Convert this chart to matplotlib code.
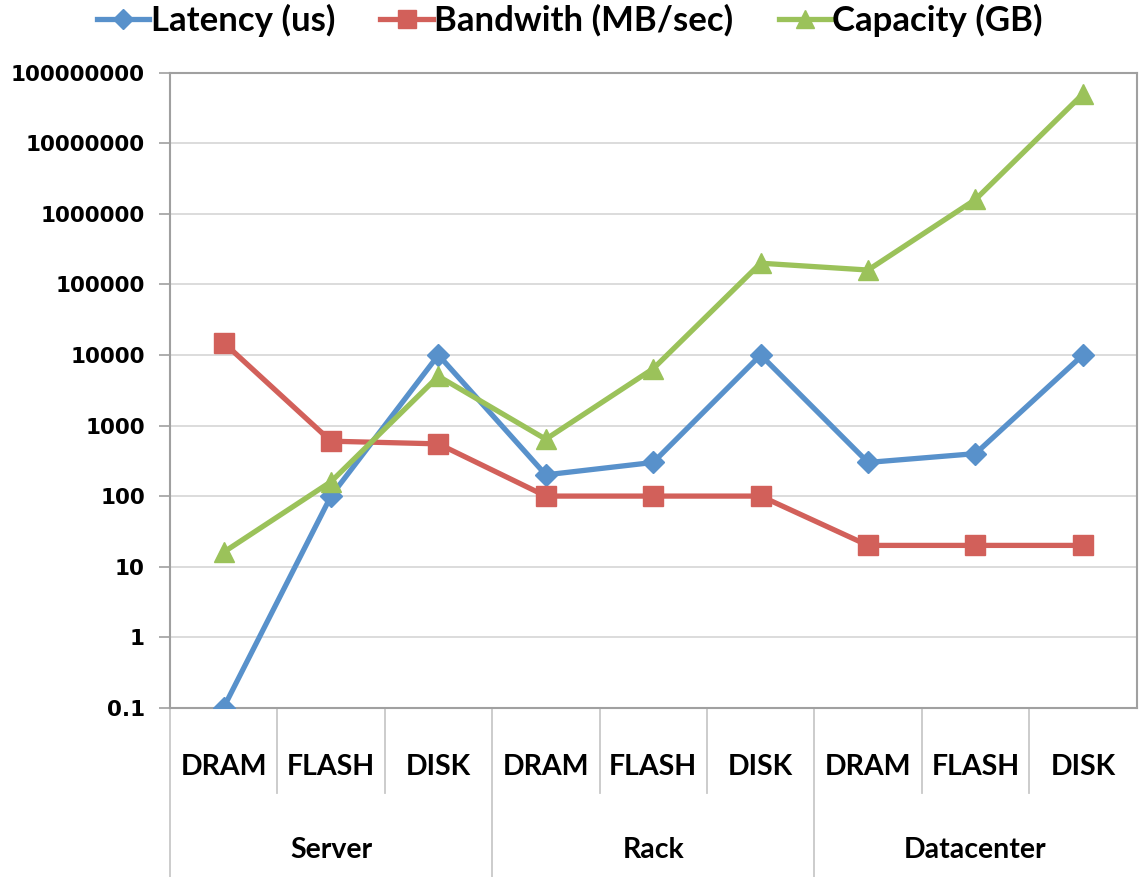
import numpy as np
import matplotlib.pyplot as plt

# Data
levels = ['DRAM', 'FLASH', 'DISK'] * 3
groups = ['Server', 'Rack', 'Datacenter']
latency = [0.1, 100, 10000, 200, 300, 10000, 300, 400, 10000]
bandwidth = [15000, 600, 550, 100, 100, 100, 20, 20, 20]
capacity = [16, 160, 5000, 640, 6400, 200000, 160000, 1600000, 50000000]
ytick_vals = [0.1, 1, 10, 100, 1000, 10000, 100000, 1000000, 10000000, 100000000]
ytick_labels = ['0.1', '1', '10', '100', '1000', '10000', '100000', '1000000',
                '10000000', '100000000']

fig = plt.figure(figsize=(11.4, 8.77), dpi=100)
ax = fig.add_axes([0.149, 0.193, 0.848, 0.724])

x = np.arange(len(levels))
ax.plot(x, latency, color='#5891CB', lw=3.8, marker='D', ms=11, label='Latency (us)', zorder=3)
ax.plot(x, bandwidth, color='#D2605A', lw=3.8, marker='s', ms=14, label='Bandwith (MB/sec)', zorder=3)
ax.plot(x, capacity, color='#9BC25A', lw=3.8, marker='^', ms=14, label='Capacity (GB)', zorder=3)

ax.set_yscale('log')
ax.set_ylim(0.1, 1e8)
ax.set_xlim(-0.5, 8.5)
ax.set_yticks(ytick_vals)
ax.set_yticklabels(ytick_labels, fontsize=15.5, fontweight='bold', family='DejaVu Sans')
ax.minorticks_off()
ax.tick_params(axis='y', length=8, color='#A0A0A0', width=1.2, pad=10)
ax.grid(axis='y', color='#D9D9D9', lw=1.3)
ax.set_axisbelow(True)
for s in ax.spines.values():
    s.set_color('#A0A0A0')
    s.set_linewidth(1.5)

# two level category axis
ax.set_xticks(x)
ax.set_xticklabels(levels, fontsize=20.5, fontweight='bold', family='Lato')
ax.tick_params(axis='x', length=0, pad=33)
trans = ax.get_xaxis_transform()
for i in range(1, len(levels)):
    if i % 3 == 0:
        continue
    ax.plot([i - 0.5, i - 0.5], [0, -0.134], transform=trans, color='#C8C8C8',
            lw=1.3, clip_on=False)
for i in range(3):
    ax.plot([3 * i - 0.5, 3 * i - 0.5], [0, -0.3], transform=trans, color='#C8C8C8',
            lw=1.3, clip_on=False)
    ax.text(3 * i + 1, -0.224, groups[i], transform=trans, ha='center', va='center',
            fontsize=20.5, fontweight='bold', family='Lato')

fig.legend(loc='center', bbox_to_anchor=(0.5, 0.977), ncol=3, frameon=False,
           prop={'family': 'Lato', 'weight': 'bold', 'size': 25}, handlelength=1.5,
           handletextpad=0.05, columnspacing=1.3, markerscale=0.9)

plt.savefig('out.png')
